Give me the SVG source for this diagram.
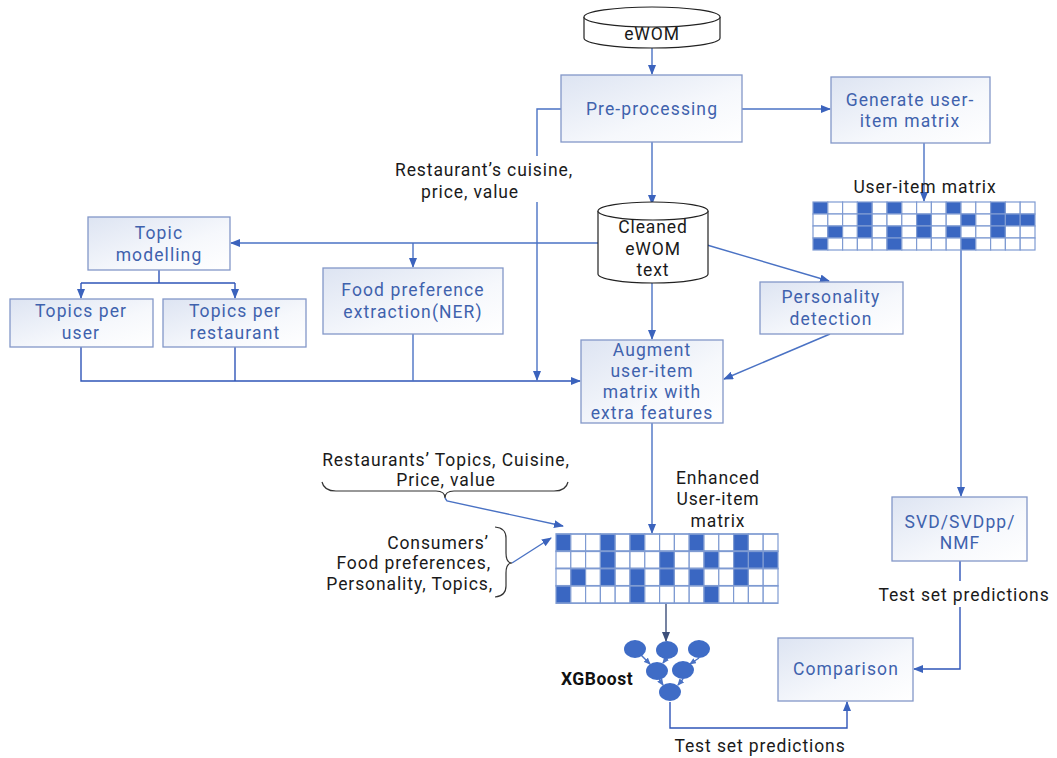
<svg xmlns="http://www.w3.org/2000/svg" width="1057" height="758" viewBox="0 0 1057 758">
<defs>
<linearGradient id="boxg" x1="0" y1="0" x2="1" y2="1">
<stop offset="0" stop-color="#dde4f2"/>
<stop offset="0.6" stop-color="#f6f8fc"/>
<stop offset="1" stop-color="#ffffff"/>
</linearGradient>
<marker id="arr" markerWidth="10" markerHeight="8" refX="9" refY="4" orient="auto" markerUnits="userSpaceOnUse">
<path d="M0,0 L10,4 L0,8 Z" fill="#3b63bd"/>
</marker>
<marker id="arrs" markerWidth="7" markerHeight="6" refX="6" refY="3" orient="auto" markerUnits="userSpaceOnUse">
<path d="M0,0 L7,3 L0,6 Z" fill="#4a72c4"/>
</marker>
<marker id="arrd" markerWidth="10" markerHeight="8" refX="9" refY="4" orient="auto" markerUnits="userSpaceOnUse">
<path d="M0,0 L10,4 L0,8 Z" fill="#3d4f7a"/>
</marker>
</defs>
<style>
.box{fill:url(#boxg);stroke:#8397c8;stroke-width:1.3}
.bt{font-family:Roboto,"Liberation Sans",sans-serif;font-size:17.5px;fill:#3f62ad;text-anchor:middle;letter-spacing:1.1px}
.lt{font-family:Roboto,"Liberation Sans",sans-serif;font-size:17.5px;fill:#1a1a1a;text-anchor:middle;letter-spacing:0.9px}
.cyl{fill:#ffffff;stroke:#222;stroke-width:1.2}
.ct{font-family:Roboto,"Liberation Sans",sans-serif;font-size:17.5px;fill:#1a1a1a;text-anchor:middle;letter-spacing:0.9px}
.ln{fill:none;stroke:#4a72c4;stroke-width:1.4}
.lnd{fill:none;stroke:#2f55b8;stroke-width:1.4}
.cw{fill:#ffffff;stroke:#7f9bd2;stroke-width:1.2}
.cf{fill:#3a67c2;stroke:#7f9bd2;stroke-width:1.2}
.nd{fill:#3f6cc6}
.brace{fill:none;stroke:#333;stroke-width:1.2}
</style>
<rect width="1057" height="758" fill="#ffffff"/>

<g id="connectors">
<path class="ln" d="M652,48 V74" marker-end="url(#arr)"/>
<path class="ln" d="M742,109 H830" marker-end="url(#arr)"/>
<path class="ln" d="M652,142 V204" marker-end="url(#arr)"/>
<path class="ln" d="M561,109 H537 V156"/>
<path class="ln" d="M537,202 V380" marker-end="url(#arr)"/>
<path class="ln" d="M924,143 V201" marker-end="url(#arr)"/>
<path class="ln" d="M598,243 H231" marker-end="url(#arr)"/>
<path class="ln" d="M413,243 V267" marker-end="url(#arr)"/>
<path class="ln" d="M707,245 L829,281" marker-end="url(#arr)"/>
<path class="ln" d="M652,283 V339" marker-end="url(#arr)"/>
<path class="lnd" d="M159,270 V283 M81,283 H235"/>
<path class="lnd" d="M81,283 V298" marker-end="url(#arr)"/>
<path class="lnd" d="M235,283 V298" marker-end="url(#arr)"/>
<path class="lnd" d="M81,347 V381 H580" marker-end="url(#arr)"/>
<path class="lnd" d="M235,347 V381"/>
<path class="ln" d="M413,334 V381"/>
<path class="ln" d="M830,334 L724,379" marker-end="url(#arr)"/>
<path class="ln" d="M652,423 V533" marker-end="url(#arr)"/>
<path class="ln" d="M961,250 V496" marker-end="url(#arr)"/>
<path class="lnd" d="M960,561 V581 M960,607 V669 H914" marker-end="url(#arr)"/>
<path class="ln" d="M445,498 L447,501 L563,526" marker-end="url(#arr)"/>
<path class="ln" d="M512,563 L551,538" marker-end="url(#arr)"/>
<path d="M666,603 V641" fill="none" stroke="#3d4f7a" stroke-width="1.4" marker-end="url(#arrd)"/>
<path class="lnd" d="M670,702 V728 H847 V702" marker-end="url(#arr)"/>
<path class="ln" d="M641,655 L650,664" marker-end="url(#arrs)"/>
<path class="ln" d="M666,659 L663,663" marker-end="url(#arrs)"/>
<path class="ln" d="M699,658 L690,664" marker-end="url(#arrs)"/>
<path class="ln" d="M659,679 L663,685" marker-end="url(#arrs)"/>
<path class="ln" d="M683,679 L678,685" marker-end="url(#arrs)"/>
</g>

<g id="ewom">
<path class="cyl" d="M584,17 V38 A68,10 0 0 0 720,38 V17"/>
<ellipse class="cyl" cx="652" cy="17" rx="68" ry="10"/>
<text class="ct" x="652" y="40">eWOM</text>
</g>

<g id="preprocessing">
<rect class="box" x="561" y="75" width="181" height="67"/>
<text class="bt" x="652" y="115">Pre-processing</text>
</g>

<g id="generate">
<rect class="box" x="831" y="77" width="159" height="66"/>
<text class="bt" x="910" y="106">Generate user-</text>
<text class="bt" x="910" y="127">item matrix</text>
</g>

<g id="cuisine-label">
<text class="lt" x="484" y="176">Restaurant’s cuisine,</text>
<text class="lt" x="470" y="198">price, value</text>
</g>

<g id="cleaned">
<path class="cyl" d="M598,211 V274 A55,9 0 0 0 708,274 V211"/>
<ellipse class="cyl" cx="653" cy="211" rx="55" ry="9"/>
<text class="ct" x="653" y="233">Cleaned</text>
<text class="ct" x="653" y="255">eWOM</text>
<text class="ct" x="653" y="276">text</text>
</g>

<g id="useritem">
<text class="lt" x="925" y="193">User-item matrix</text>
<g transform="translate(813,202)">
<g id="m1">
<rect class="cf" x="0" y="0" width="14.8" height="12"/><rect class="cw" x="14.8" y="0" width="14.8" height="12"/><rect class="cw" x="29.6" y="0" width="14.8" height="12"/><rect class="cf" x="44.4" y="0" width="14.8" height="12"/><rect class="cw" x="59.2" y="0" width="14.8" height="12"/><rect class="cf" x="74" y="0" width="14.8" height="12"/><rect class="cw" x="88.8" y="0" width="14.8" height="12"/><rect class="cw" x="103.6" y="0" width="14.8" height="12"/><rect class="cw" x="118.4" y="0" width="14.8" height="12"/><rect class="cf" x="133.2" y="0" width="14.8" height="12"/><rect class="cw" x="148" y="0" width="14.8" height="12"/><rect class="cw" x="162.8" y="0" width="14.8" height="12"/><rect class="cf" x="177.6" y="0" width="14.8" height="12"/><rect class="cw" x="192.4" y="0" width="14.8" height="12"/><rect class="cw" x="207.2" y="0" width="14.8" height="12"/>
<rect class="cw" x="0" y="12" width="14.8" height="12"/><rect class="cw" x="14.8" y="12" width="14.8" height="12"/><rect class="cw" x="29.6" y="12" width="14.8" height="12"/><rect class="cf" x="44.4" y="12" width="14.8" height="12"/><rect class="cw" x="59.2" y="12" width="14.8" height="12"/><rect class="cw" x="74" y="12" width="14.8" height="12"/><rect class="cw" x="88.8" y="12" width="14.8" height="12"/><rect class="cf" x="103.6" y="12" width="14.8" height="12"/><rect class="cw" x="118.4" y="12" width="14.8" height="12"/><rect class="cw" x="133.2" y="12" width="14.8" height="12"/><rect class="cf" x="148" y="12" width="14.8" height="12"/><rect class="cw" x="162.8" y="12" width="14.8" height="12"/><rect class="cf" x="177.6" y="12" width="14.8" height="12"/><rect class="cf" x="192.4" y="12" width="14.8" height="12"/><rect class="cf" x="207.2" y="12" width="14.8" height="12"/>
<rect class="cw" x="0" y="24" width="14.8" height="12"/><rect class="cf" x="14.8" y="24" width="14.8" height="12"/><rect class="cw" x="29.6" y="24" width="14.8" height="12"/><rect class="cf" x="44.4" y="24" width="14.8" height="12"/><rect class="cw" x="59.2" y="24" width="14.8" height="12"/><rect class="cf" x="74" y="24" width="14.8" height="12"/><rect class="cw" x="88.8" y="24" width="14.8" height="12"/><rect class="cf" x="103.6" y="24" width="14.8" height="12"/><rect class="cw" x="118.4" y="24" width="14.8" height="12"/><rect class="cf" x="133.2" y="24" width="14.8" height="12"/><rect class="cw" x="148" y="24" width="14.8" height="12"/><rect class="cw" x="162.8" y="24" width="14.8" height="12"/><rect class="cf" x="177.6" y="24" width="14.8" height="12"/><rect class="cw" x="192.4" y="24" width="14.8" height="12"/><rect class="cw" x="207.2" y="24" width="14.8" height="12"/>
<rect class="cf" x="0" y="36" width="14.8" height="12"/><rect class="cw" x="14.8" y="36" width="14.8" height="12"/><rect class="cw" x="29.6" y="36" width="14.8" height="12"/><rect class="cw" x="44.4" y="36" width="14.8" height="12"/><rect class="cw" x="59.2" y="36" width="14.8" height="12"/><rect class="cf" x="74" y="36" width="14.8" height="12"/><rect class="cw" x="88.8" y="36" width="14.8" height="12"/><rect class="cw" x="103.6" y="36" width="14.8" height="12"/><rect class="cw" x="118.4" y="36" width="14.8" height="12"/><rect class="cw" x="133.2" y="36" width="14.8" height="12"/><rect class="cf" x="148" y="36" width="14.8" height="12"/><rect class="cw" x="162.8" y="36" width="14.8" height="12"/><rect class="cw" x="177.6" y="36" width="14.8" height="12"/><rect class="cw" x="192.4" y="36" width="14.8" height="12"/><rect class="cw" x="207.2" y="36" width="14.8" height="12"/>
</g>
</g>
</g>

<g id="topic-modelling">
<rect class="box" x="88" y="217" width="142" height="53"/>
<text class="bt" x="159" y="239">Topic</text>
<text class="bt" x="159" y="261">modelling</text>
</g>

<g id="topics-user">
<rect class="box" x="10" y="299" width="143" height="48"/>
<text class="bt" x="81" y="317">Topics per</text>
<text class="bt" x="81" y="339">user</text>
</g>

<g id="topics-restaurant">
<rect class="box" x="163" y="299" width="143" height="48"/>
<text class="bt" x="235" y="317">Topics per</text>
<text class="bt" x="235" y="339">restaurant</text>
</g>

<g id="food-pref">
<rect class="box" x="323" y="268" width="180" height="66"/>
<text class="bt" x="413" y="296">Food preference</text>
<text class="bt" x="413" y="318">extraction(NER)</text>
</g>

<g id="personality">
<rect class="box" x="760" y="282" width="143" height="52"/>
<text class="bt" x="831" y="303">Personality</text>
<text class="bt" x="831" y="325">detection</text>
</g>

<g id="augment">
<rect class="box" x="581" y="340" width="142" height="83"/>
<text class="bt" x="652" y="356">Augment</text>
<text class="bt" x="652" y="377">user-item</text>
<text class="bt" x="652" y="398">matrix with</text>
<text class="bt" x="652" y="419">extra features</text>
</g>

<g id="restaurant-features">
<text class="lt" x="446" y="466">Restaurants’ Topics, Cuisine,</text>
<text class="lt" x="446" y="486">Price, value</text>
<path class="brace" d="M322,482 Q324,491 336,491 H436 Q445,491 445,498 Q445,491 454,491 H554 Q566,491 568,482"/>
</g>

<g id="consumer-features">
<text class="lt" x="489" y="549" style="text-anchor:end">Consumers’</text>
<text class="lt" x="491" y="569" style="text-anchor:end">Food preferences,</text>
<text class="lt" x="493" y="590" style="text-anchor:end">Personality, Topics,</text>
<path class="brace" d="M495,527 Q506,528 506,538 V553 Q506,563 512,563 Q506,563 506,573 V586 Q506,596 495,597"/>
</g>

<g id="enhanced">
<text class="lt" x="718" y="484">Enhanced</text>
<text class="lt" x="718" y="505">User-item</text>
<text class="lt" x="718" y="527">matrix</text>
<g transform="translate(556,534) scale(1,1.44)">
<use href="#m1"/>
</g>
</g>

<g id="xgboost">
<ellipse class="nd" cx="635" cy="649" rx="11" ry="9"/>
<ellipse class="nd" cx="667" cy="650" rx="11" ry="9"/>
<ellipse class="nd" cx="699" cy="649" rx="11" ry="9"/>
<ellipse class="nd" cx="657" cy="671" rx="11" ry="9"/>
<ellipse class="nd" cx="683" cy="670" rx="11" ry="9"/>
<ellipse class="nd" cx="670" cy="692" rx="11" ry="9"/>
<text x="597" y="685" style="font-family:Roboto,'Liberation Sans',sans-serif;font-size:17.5px;font-weight:bold;fill:#111;text-anchor:middle;letter-spacing:0.5px">XGBoost</text>
</g>

<g id="svd">
<rect class="box" x="892" y="497" width="135" height="64"/>
<text class="bt" x="960" y="528">SVD/SVDpp/</text>
<text class="bt" x="960" y="549">NMF</text>
<text class="lt" x="964" y="601">Test set predictions</text>
</g>

<g id="comparison">
<rect class="box" x="778" y="638" width="135" height="63"/>
<text class="bt" x="846" y="675">Comparison</text>
</g>

<g id="xgb-pred">
<text class="lt" x="760" y="752">Test set predictions</text>
</g>
</svg>
